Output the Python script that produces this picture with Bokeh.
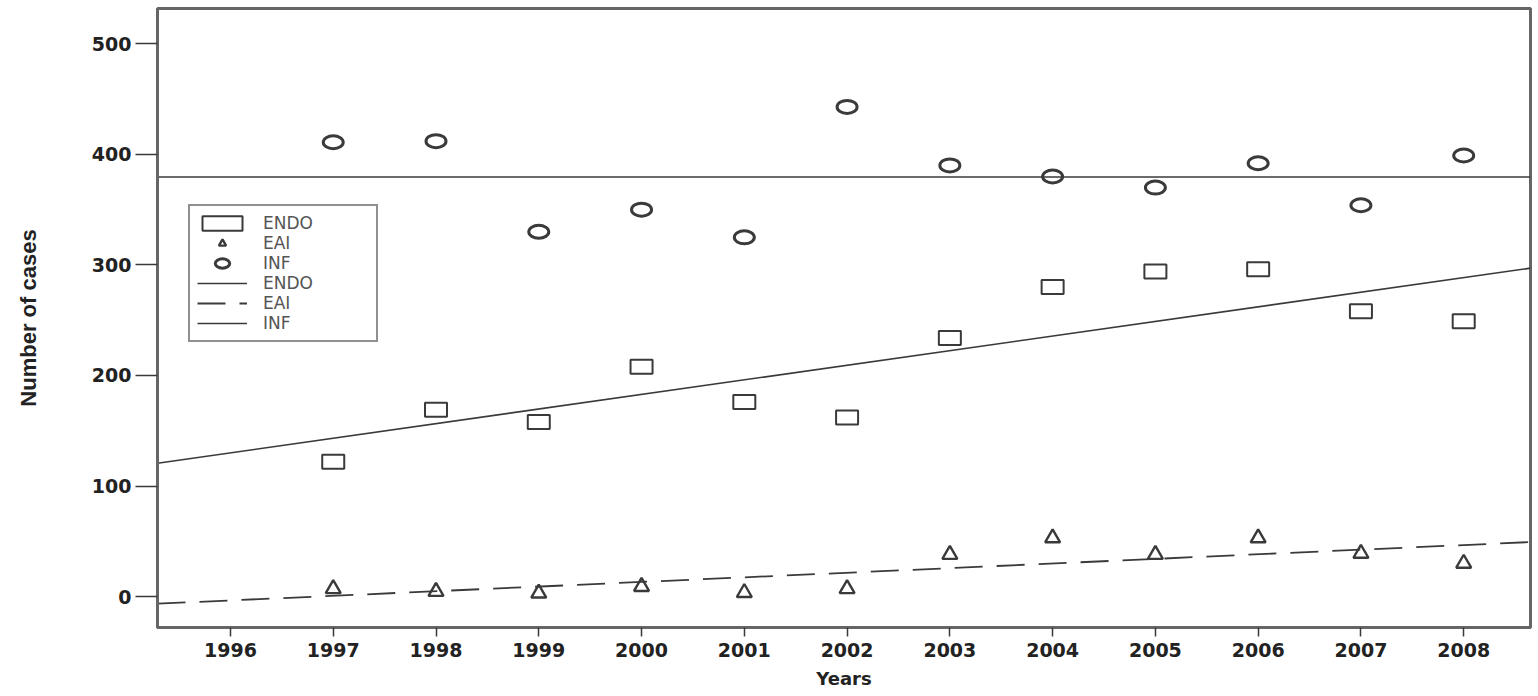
from bokeh.plotting import figure
from bokeh.models import Range1d, FixedTicker, Legend, LegendItem
from bokeh.embed import file_html
from bokeh.resources import INLINE

# ---- data ----
years = [1997, 1998, 1999, 2000, 2001, 2002, 2003, 2004, 2005, 2006, 2007, 2008]
endo = [122, 169, 158, 208, 176, 162, 234, 280, 294, 296, 258, 249]
eai = [7, 4.5, 3, 9, 3.5, 7, 38, 53, 38, 53, 39, 30]
inf = [411, 412, 330, 350, 325, 443, 390, 380, 370, 392, 354, 399]

x_ticks = list(range(1996, 2009))
y_ticks = [0, 100, 200, 300, 400, 500]

# fitted lines: value at 1996 and at 2008
endo_fit = (130.0, 288.5)
eai_fit = (-3.5, 46.6)
inf_fit = (379.5, 379.5)

legend_labels = ["ENDO", "EAI", "INF", "ENDO", "EAI", "INF"]

INK = "#3a3a3a"
FRAME = "#666666"

x_range = Range1d(1995.29, 2008.65)
y_range = Range1d(-28, 532)

p = figure(width=1536, height=694, x_range=x_range, y_range=y_range,
           output_backend="svg", toolbar_location=None,
           min_border_left=157, min_border_right=6,
           min_border_top=8, min_border_bottom=67)

p.background_fill_color = "white"
p.border_fill_color = "white"
p.outline_line_color = FRAME
p.outline_line_width = 3
p.xgrid.visible = False
p.ygrid.visible = False

# axes
p.xaxis.ticker = FixedTicker(ticks=x_ticks)
p.yaxis.ticker = FixedTicker(ticks=y_ticks)
for ax in (p.xaxis[0], p.yaxis[0]):
    ax.axis_line_color = FRAME
    ax.axis_line_width = 3
    ax.major_tick_line_color = INK
    ax.major_tick_line_width = 1.5
    ax.minor_tick_line_color = None
    ax.major_tick_in = 0
    ax.major_label_text_font = "DejaVu Sans"
    ax.major_label_text_font_style = "bold"
    ax.major_label_text_font_size = "19px"
    ax.major_label_text_color = "#222222"
    ax.axis_label_text_color = "#222222"
    ax.axis_label_text_font_style = "bold"

p.xaxis.major_tick_out = 9
p.xaxis.major_label_standoff = 6
p.xaxis.axis_label = "Years"
p.xaxis.axis_label_text_font = "DejaVu Sans"
p.xaxis.axis_label_text_font_size = "18px"
p.xaxis.axis_label_standoff = 8

p.yaxis.major_tick_out = 22
p.yaxis.major_label_standoff = 4
p.yaxis.axis_label = "Number of cases"
p.yaxis.axis_label_text_font = "Liberation Sans"
p.yaxis.axis_label_text_font_size = "22px"
p.yaxis.axis_label_standoff = 48

# scatter marks
r_endo = p.rect(x=years, y=endo, width=22, height=14,
                width_units="screen", height_units="screen",
                fill_color=None, line_color=INK, line_width=2)
r_eai = p.scatter(x=years, y=eai, marker="triangle", size=15,
                  fill_color=None, line_color=INK, line_width=2.4)
r_inf = p.ellipse(x=years, y=inf, width=20, height=13,
                  width_units="screen", height_units="screen",
                  fill_color=None, line_color=INK, line_width=3)


# fit lines across the whole x range
def fit_line(fit):
    g = (fit[1] - fit[0]) / (2008 - 1996)
    xs = [x_range.start, x_range.end]
    return xs, [fit[0] + g * (x - 1996) for x in xs]


xs, ys = fit_line(endo_fit)
l_endo = p.line(x=xs, y=ys, line_color=INK, line_width=1.6)
xs, ys = fit_line(eai_fit)
l_eai = p.line(x=xs, y=ys, line_color=INK, line_width=1.8, line_dash="28 14")
xs, ys = fit_line(inf_fit)
l_inf = p.line(x=xs, y=ys, line_color=INK, line_width=1.6)

renderers = [r_endo, r_eai, r_inf, l_endo, l_eai, l_inf]
items = [LegendItem(label=lab, renderers=[r]) for lab, r in zip(legend_labels, renderers)]
legend = Legend(items=items, location=(31, 285),
                border_line_color="#222222", border_line_width=2,
                background_fill_color="white", background_fill_alpha=1,
                label_text_font="DejaVu Sans", label_text_font_size="17px",
                label_text_color="#555555",
                glyph_width=50, glyph_height=18, label_height=18,
                spacing=0, padding=7, label_standoff=16, label_width=106,
                margin=0)
p.add_layout(legend, "center")

open("out.html", "w").write(file_html(p, INLINE))
